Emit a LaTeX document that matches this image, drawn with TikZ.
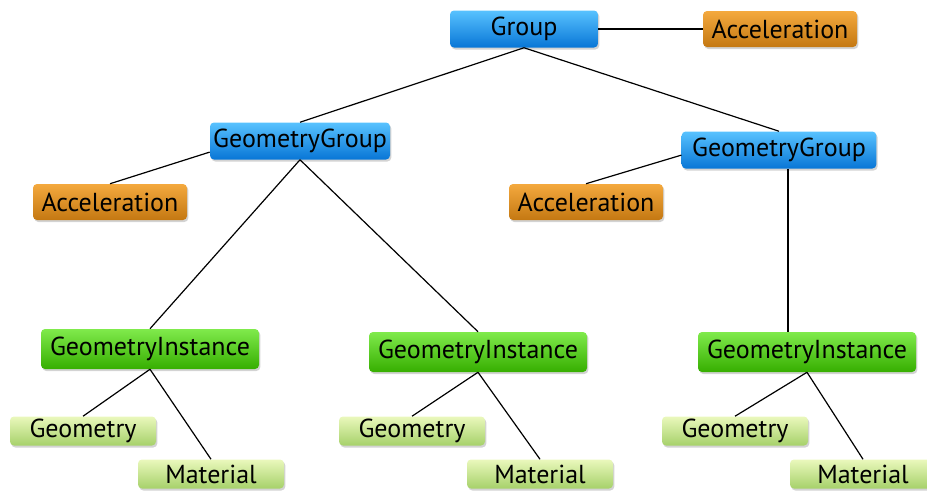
\documentclass[tikz,border=0pt]{standalone}
\usepackage{fontspec}
\setmainfont{PT Sans}
\usetikzlibrary{shadows}

\definecolor{grptop}{HTML}{58C2FF}
\definecolor{grpbot}{HTML}{0876D6}
\definecolor{acctop}{HTML}{F4A93E}
\definecolor{accbot}{HTML}{C47812}
\definecolor{insttop}{HTML}{80EA4C}
\definecolor{instbot}{HTML}{36AE00}
\definecolor{leaftop}{HTML}{EAF8BC}
\definecolor{leafbot}{HTML}{A6D16A}

\tikzset{
  box/.style={rounded corners=3pt, inner sep=0pt, text=black,
    font=\fontsize{19.5}{22}\selectfont,
    drop shadow={shadow xshift=1pt, shadow yshift=-1.5pt, opacity=0.35}},
  grpbox/.style={box, top color=grptop, bottom color=grpbot, minimum height=27.75pt},
  accbox/.style={box, top color=acctop, bottom color=accbot, minimum width=115.5pt, minimum height=27pt},
  instbox/.style={box, top color=insttop, bottom color=instbot, minimum width=163.5pt, minimum height=30pt},
  leafbox/.style={box, top color=leaftop, bottom color=leafbot, minimum width=109.5pt, minimum height=21.75pt},
  link/.style={line width=0.9pt}
}

\begin{document}
\begin{tikzpicture}[x=0.75pt,y=-0.75pt]
\useasboundingbox (0,0) rectangle (927,490);
% group level
\node[grpbox, minimum width=111pt] (group) at (524,29) {Group};
\node[accbox] (accTop) at (780,29) {Acceleration};
\node[grpbox, minimum width=135pt] (ggL) at (300,141) {GeometryGroup};
\node[grpbox, minimum width=146pt] (ggR) at (779,150) {GeometryGroup};
\node[accbox] (accL) at (110,202) {Acceleration};
\node[accbox] (accR) at (586,202) {Acceleration};
% instances and their leaves
\foreach \n/\x/\y/\g/\m in {L/150/349/83/211, M/478/352/412/540, R/807/352/735/863}
{
  \node[instbox] (gi\n) at (\x,\y) {GeometryInstance};
  \node[leafbox] (geo\n) at (\g,431) {Geometry};
  \node[leafbox] (mat\n) at (\m,474) {Material};
  \draw[link] (gi\n.south) -- (geo\n.north);
  \draw[link] (gi\n.south) -- (mat\n.north);
}
\coordinate (vline) at (788,0);
\draw[link] (group.east) -- (accTop.west);
\draw[link] (group.south) -- (ggL.north);
\draw[link] (group.south) -- (ggR.north);
\draw[link] (ggL.187) -- (accL.north);
\draw[link] (ggR.183) -- (accR.north);
\draw[link] (ggL.south) -- (giL.north);
\draw[link] (ggL.south) -- (giM.north);
\draw[link] (ggR.south -| vline) -- (giR.north -| vline);
\end{tikzpicture}
\end{document}
